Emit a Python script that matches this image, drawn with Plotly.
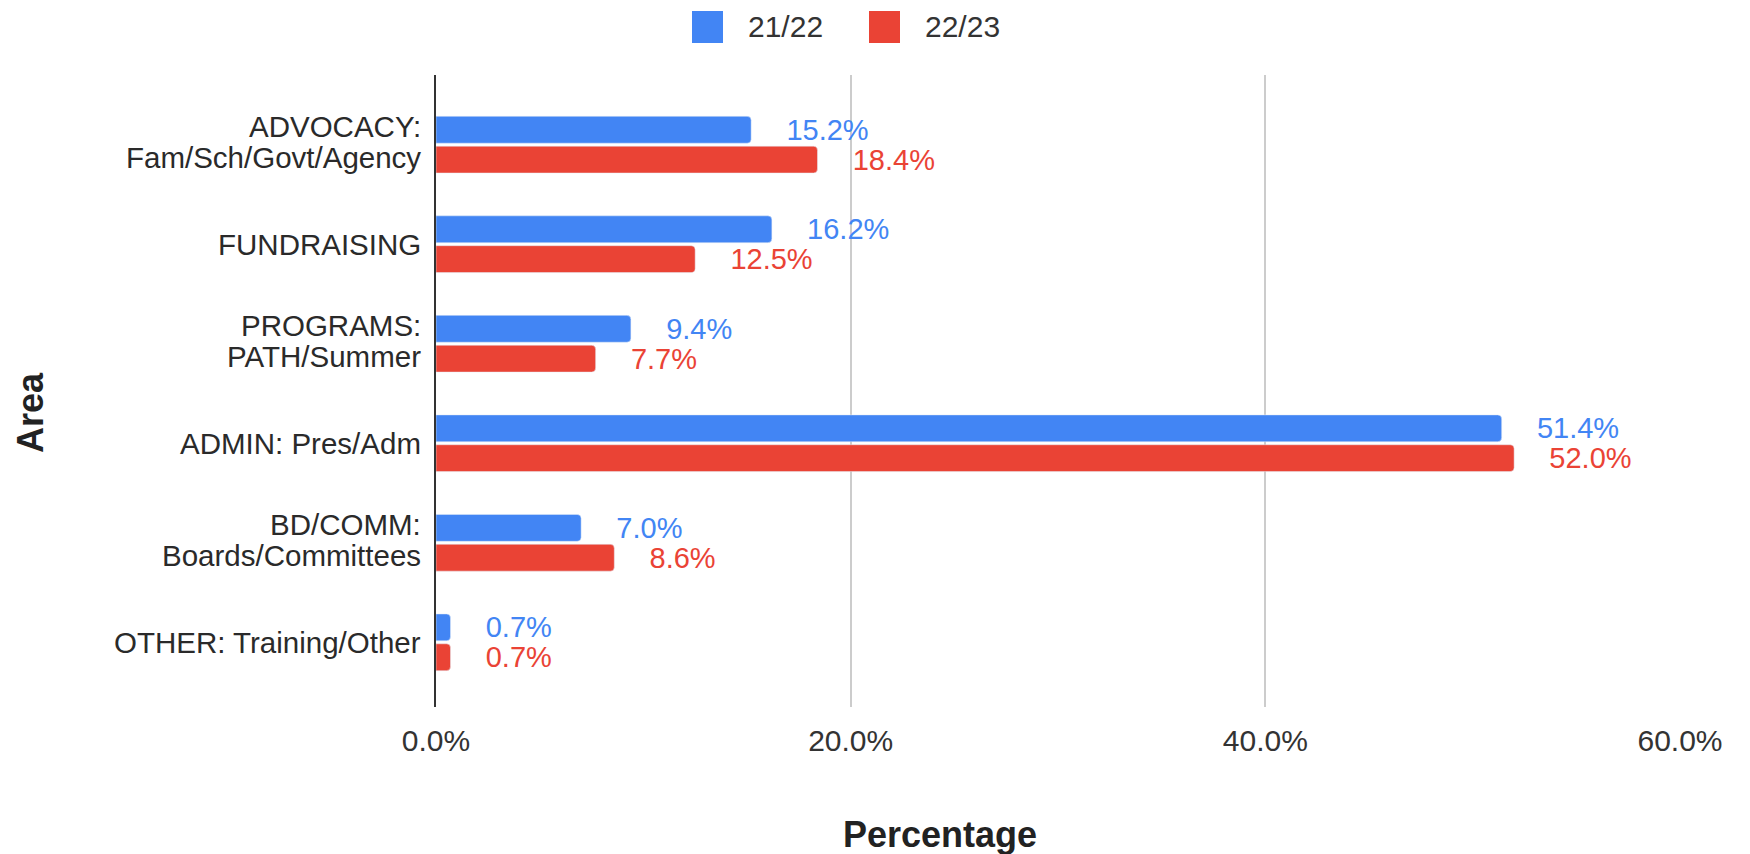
import plotly.graph_objects as go

categories = [
    "ADVOCACY:<br>Fam/Sch/Govt/Agency",
    "FUNDRAISING",
    "PROGRAMS:<br>PATH/Summer",
    "ADMIN: Pres/Adm",
    "BD/COMM:<br>Boards/Committees",
    "OTHER: Training/Other",
]
series_names = ["21/22", "22/23"]
values_2122 = [15.2, 16.2, 9.4, 51.4, 7.0, 0.7]
values_2223 = [18.4, 12.5, 7.7, 52.0, 8.6, 0.7]
colors = ["#4285F4", "#EA4335"]
x_tick_vals = [0, 0.2, 0.4, 0.6]

FONT = "Liberation Sans, Arial"
# page body has an 8px default margin: compensate
OFF = 8
W, H = 1750 - OFF, 854 - OFF
L, R, T, B = 436, 1680, 75, 707  # plot area in reference pixels


def px_x(p):
    return (p - L) / (R - L)


def px_y(p):
    return (B - p) / (B - T)


PAD = "\u00a0" * 4

fig = go.Figure()
for name, vals, col in zip(series_names, [values_2122, values_2223], colors):
    fig.add_trace(go.Bar(
        y=categories,
        x=[v / 100 for v in vals],
        orientation="h",
        name=name,
        marker=dict(color=col, cornerradius=4),
        text=[f"{PAD}{v:.1f}%" for v in vals],
        textposition="outside",
        textfont=dict(family=FONT, size=29, color=col),
        constraintext="none",
        cliponaxis=False,
        showlegend=False,
    ))

fig.update_layout(
    width=W, height=H,
    margin=dict(l=L - OFF, r=1750 - R, t=T - OFF, b=854 - B, pad=0),
    paper_bgcolor="white", plot_bgcolor="white",
    font=dict(family=FONT, color="#333333"),
    barmode="group", bargap=0.40, bargroupgap=0.1,
    xaxis=dict(
        range=[0, 0.6], tickvals=x_tick_vals, tickformat=".1%",
        showgrid=True, gridcolor="#cccccc", gridwidth=1.5,
        zeroline=False, showline=False, ticks="",
        tickfont=dict(size=30, color="#333333"),
        ticklabelstandoff=13,
    ),
    yaxis=dict(
        categoryorder="array", categoryarray=categories,
        range=[5.65, -0.70],
        showgrid=False, zeroline=False,
        showline=True, linecolor="#333333", linewidth=2,
        ticks="", showticklabels=False,
    ),
)

# category labels, one annotation per line (tighter line spacing)
for cat in categories:
    lines = cat.split("<br>")
    shifts = [0] if len(lines) == 1 else [18, -13]
    for line, s in zip(lines, shifts):
        fig.add_annotation(xref="paper", yref="y", x=px_x(423), y=cat,
                           yshift=s, text=line, showarrow=False,
                           xanchor="right", yanchor="middle",
                           font=dict(family=FONT, size=29.5, color="#2a2a2a"))

# custom legend
leg_sq = [(692, 723), (869, 900)]
for (x0, x1), col, name in zip(leg_sq, colors, series_names):
    fig.add_shape(type="rect", xref="paper", yref="paper",
                  x0=px_x(x0), x1=px_x(x1), y0=px_y(43), y1=px_y(11),
                  fillcolor=col, line=dict(width=0), layer="above")
    fig.add_annotation(xref="paper", yref="paper", x=px_x(x1 + 23), y=px_y(26),
                       text=name, showarrow=False, xanchor="left", yanchor="middle",
                       font=dict(family=FONT, size=30, color="#333333"))

# axis titles
fig.add_annotation(xref="paper", yref="paper", x=px_x(940), y=px_y(834),
                   text="<b>Percentage</b>", showarrow=False,
                   xanchor="center", yanchor="middle",
                   font=dict(family=FONT, size=36, color="#222222"))
fig.add_annotation(xref="paper", yref="paper", x=px_x(30), y=px_y(413),
                   text="<b>Area</b>", showarrow=False, textangle=-90,
                   xanchor="center", yanchor="middle",
                   font=dict(family=FONT, size=36, color="#222222"))

fig.write_html("out.html")
